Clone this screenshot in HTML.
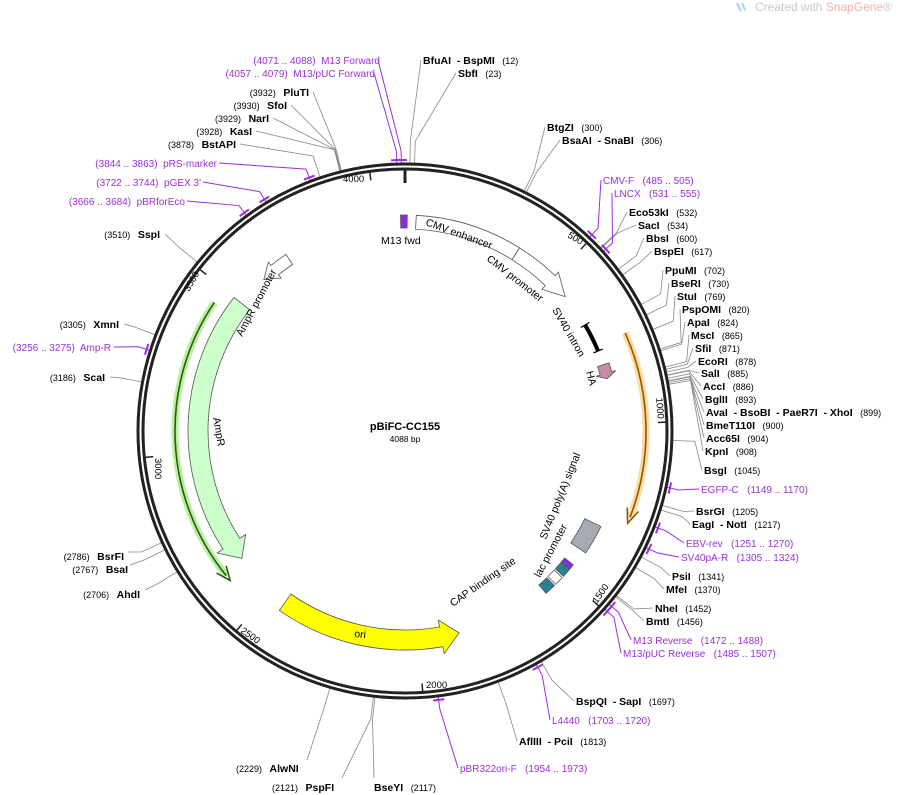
<!DOCTYPE html>
<html><head><meta charset="utf-8"><style>
body{margin:0;background:#fff}
svg{display:block;font-family:"Liberation Sans","DejaVu Sans",sans-serif}
text{white-space:pre}
.e{font-size:10.5px;font-weight:bold;fill:#000}
.n{font-size:9px;font-weight:normal;fill:#000}
.p{font-size:10px;fill:#9b30d9}
.f{font-size:10.5px;fill:#000}
.t{font-size:9.5px;fill:#000}
</style></head><body>
<svg id="s" width="906" height="795" viewBox="0 0 906 795" xmlns="http://www.w3.org/2000/svg">
<text x="755" y="11" font-size="12" fill="#c8c8c8">Created with <tspan fill="#f0b0b0">SnapGene</tspan>®</text>
<path d="M737 3 l4 8 M742 3 l3 7" stroke="#9fd6e6" stroke-width="2"/>
<g id="lines"></g>
<circle cx="405" cy="431" r="267" fill="none" stroke="#222" stroke-width="3"/>
<circle cx="405" cy="431" r="262" fill="none" stroke="#222" stroke-width="3"/>
<g id="feat"></g>
<text x="405" y="430" text-anchor="middle" font-size="11" font-weight="bold">pBiFC-CC155</text>
<text x="405" y="442" text-anchor="middle" font-size="8.5">4088 bp</text>
<text class="t" x="343" y="182">4000</text>
<text class="t" transform="translate(567,237) rotate(30)">500</text>
<text class="t" transform="translate(656,398) rotate(85)">1000</text>
<text class="t" transform="translate(597,604) rotate(-55)">1500</text>
<text class="t" x="426" y="688">2000</text>
<text class="t" transform="translate(240,632) rotate(35)">2500</text>
<text class="t" transform="translate(155,458) rotate(90)">3000</text>
<text class="t" transform="translate(189,292) rotate(-60)">3500</text>
<text class="f" transform="translate(425,225) rotate(20)">CMV enhancer</text>
<text class="f" transform="translate(486,260) rotate(38)">CMV promoter</text>
<text class="f" transform="translate(552,310) rotate(60)">SV40 intron</text>
<text class="f" transform="translate(586,372) rotate(75)">HA</text>
<text class="f" transform="translate(546,540) rotate(-68)">SV40 poly(A) signal</text>
<text class="f" transform="translate(540,578) rotate(-62)">lac promoter</text>
<text class="f" transform="translate(453,607) rotate(-35)">CAP binding site</text>
<text class="f" transform="translate(354,637) rotate(6)">ori</text>
<text class="f" transform="translate(213,418) rotate(80)">AmpR</text>
<text class="f" transform="translate(242,337) rotate(-62)">AmpR promoter</text>
<text class="f" x="381" y="244">M13 fwd</text>
<g text-anchor="end">
<text class="p" x="380" y="64">(4071 .. 4088)  M13 Forward</text>
<text class="p" x="375" y="77">(4057 .. 4079)  M13/pUC Forward</text>
<text x="309" y="96"><tspan class="n">(3932)   </tspan><tspan class="e">PluTI</tspan></text>
<text x="287" y="109"><tspan class="n">(3930)   </tspan><tspan class="e">SfoI</tspan></text>
<text x="269" y="122"><tspan class="n">(3929)   </tspan><tspan class="e">NarI</tspan></text>
<text x="252" y="135"><tspan class="n">(3928)   </tspan><tspan class="e">KasI</tspan></text>
<text x="236" y="148"><tspan class="n">(3878)   </tspan><tspan class="e">BstAPI</tspan></text>
<text class="p" x="217" y="167">(3844 .. 3863)  pRS-marker</text>
<text class="p" x="201" y="186">(3722 .. 3744)  pGEX 3'</text>
<text class="p" x="185" y="205">(3666 .. 3684)  pBRforEco</text>
<text x="160" y="238"><tspan class="n">(3510)   </tspan><tspan class="e">SspI</tspan></text>
<text x="119" y="328"><tspan class="n">(3305)   </tspan><tspan class="e">XmnI</tspan></text>
<text class="p" x="111" y="351">(3256 .. 3275)  Amp-R</text>
<text x="105" y="381"><tspan class="n">(3186)   </tspan><tspan class="e">ScaI</tspan></text>
<text x="124" y="560"><tspan class="n">(2786)   </tspan><tspan class="e">BsrFI</tspan></text>
<text x="128" y="573"><tspan class="n">(2767)   </tspan><tspan class="e">BsaI</tspan></text>
<text x="140" y="598"><tspan class="n">(2706)   </tspan><tspan class="e">AhdI</tspan></text>
</g>
<text x="236" y="772"><tspan class="n">(2229)   </tspan><tspan class="e">AlwNI</tspan></text>
<text x="272" y="791"><tspan class="n">(2121)   </tspan><tspan class="e">PspFI</tspan></text>
<text x="374" y="791"><tspan class="e">BseYI</tspan><tspan class="n">   (2117)</tspan></text>
<text class="p" x="460" y="772">pBR322ori-F   (1954 .. 1973)</text>
<text x="519" y="745"><tspan class="e">AflIII  - PciI</tspan><tspan class="n">   (1813)</tspan></text>
<text class="p" x="552" y="724">L4440   (1703 .. 1720)</text>
<text x="576" y="705"><tspan class="e">BspQI  - SapI</tspan><tspan class="n">   (1697)</tspan></text>
<text class="p" x="623" y="657">M13/pUC Reverse   (1485 .. 1507)</text>
<text class="p" x="633" y="644">M13 Reverse   (1472 .. 1488)</text>
<text x="646" y="625"><tspan class="e">BmtI</tspan><tspan class="n">   (1456)</tspan></text>
<text x="655" y="612"><tspan class="e">NheI</tspan><tspan class="n">   (1452)</tspan></text>
<text x="666" y="593"><tspan class="e">MfeI</tspan><tspan class="n">   (1370)</tspan></text>
<text x="672" y="580"><tspan class="e">PsiI</tspan><tspan class="n">   (1341)</tspan></text>
<text class="p" x="681" y="561">SV40pA-R   (1305 .. 1324)</text>
<text class="p" x="686" y="547">EBV-rev   (1251 .. 1270)</text>
<text x="692" y="528"><tspan class="e">EagI  - NotI</tspan><tspan class="n">   (1217)</tspan></text>
<text x="696" y="515"><tspan class="e">BsrGI</tspan><tspan class="n">   (1205)</tspan></text>
<text class="p" x="701" y="493">EGFP-C   (1149 .. 1170)</text>
<text x="704" y="474"><tspan class="e">BsgI</tspan><tspan class="n">   (1045)</tspan></text>
<text x="705" y="455"><tspan class="e">KpnI</tspan><tspan class="n">   (908)</tspan></text>
<text x="706" y="442"><tspan class="e">Acc65I</tspan><tspan class="n">   (904)</tspan></text>
<text x="706" y="429"><tspan class="e">BmeT110I</tspan><tspan class="n">   (900)</tspan></text>
<text x="706" y="416"><tspan class="e">AvaI  - BsoBI  - PaeR7I  - XhoI</tspan><tspan class="n">   (899)</tspan></text>
<text x="705" y="403"><tspan class="e">BglII</tspan><tspan class="n">   (893)</tspan></text>
<text x="703" y="390"><tspan class="e">AccI</tspan><tspan class="n">   (886)</tspan></text>
<text x="701" y="377"><tspan class="e">SalI</tspan><tspan class="n">   (885)</tspan></text>
<text x="698" y="365"><tspan class="e">EcoRI</tspan><tspan class="n">   (878)</tspan></text>
<text x="695" y="352"><tspan class="e">SfiI</tspan><tspan class="n">   (871)</tspan></text>
<text x="691" y="339"><tspan class="e">MscI</tspan><tspan class="n">   (865)</tspan></text>
<text x="687" y="326"><tspan class="e">ApaI</tspan><tspan class="n">   (824)</tspan></text>
<text x="682" y="313"><tspan class="e">PspOMI</tspan><tspan class="n">   (820)</tspan></text>
<text x="677" y="300"><tspan class="e">StuI</tspan><tspan class="n">   (769)</tspan></text>
<text x="671" y="287"><tspan class="e">BseRI</tspan><tspan class="n">   (730)</tspan></text>
<text x="665" y="274"><tspan class="e">PpuMI</tspan><tspan class="n">   (702)</tspan></text>
<text x="654" y="255"><tspan class="e">BspEI</tspan><tspan class="n">   (617)</tspan></text>
<text x="646" y="242"><tspan class="e">BbsI</tspan><tspan class="n">   (600)</tspan></text>
<text x="638" y="229"><tspan class="e">SacI</tspan><tspan class="n">   (534)</tspan></text>
<text x="629" y="216"><tspan class="e">Eco53kI</tspan><tspan class="n">   (532)</tspan></text>
<text class="p" x="614" y="197">LNCX   (531 .. 555)</text>
<text class="p" x="603" y="184">CMV-F   (485 .. 505)</text>
<text x="562" y="144"><tspan class="e">BsaAI  - SnaBI</tspan><tspan class="n">   (306)</tspan></text>
<text x="547" y="131"><tspan class="e">BtgZI</tspan><tspan class="n">   (300)</tspan></text>
<text x="423" y="64"><tspan class="e">BfuAI  - BspMI</tspan><tspan class="n">   (12)</tspan></text>
<text x="458" y="77"><tspan class="e">SbfI</tspan><tspan class="n">   (23)</tspan></text>
</svg>
<script>
var NS="http://www.w3.org/2000/svg",C=[405,431],L=4088;
function pt(r,a){a=a*Math.PI/180;return[C[0]+r*Math.sin(a),C[1]-r*Math.cos(a)];}
function ang(bp){return bp/L*360;}
function el(tag,at,parent){var e=document.createElementNS(NS,tag);for(var k in at)e.setAttribute(k,at[k]);document.getElementById(parent).appendChild(e);return e;}
var ln=[[12,421,60],[23,456,73],[300,545,127],[306,560,140],[532,627,212],[534,636,225],[600,644,238],[617,652,251],
[702,663,270],[730,669,283],[769,675,296],[820,680,309],[824,685,322],[865,689,335],[871,693,348],[878,696,361],[885,699,373],[886,701,386],[893,703,399],[899,704,412],[900,704,425],[904,704,438],[908,703,451],[1045,702,470],
[1205,694,511],[1217,690,524],[1341,670,576],[1370,664,589],[1452,653,608],[1456,644,621],[1697,574,701],[1813,517,741],[2117,374,778],[2121,342,778],[2229,307,760],
[2706,145,590],[2767,130,565],[2786,128,552],[3186,110,377],[3305,124,324],[3510,165,234],[3878,240,144],[3928,256,131],[3929,273,118],[3930,291,105],[3932,313,92]];
ln.forEach(function(l){var a=pt(268,ang(l[0]));var b=pt(290,ang(l[0]));
el("path",{d:"M"+a+"L"+b+"L"+l[1]+","+l[2],fill:"none",stroke:"#888","stroke-width":0.8},"lines");});
var pl=[[4079,378,60],[4068,374,73],[3853,219,163],[3733,203,182],[3675,187,201],[3265,114,347],[495,601,180],[543,612,193],[1160,699,489],[1260,684,543],[1315,679,557],[1480,631,640],[1496,621,653],[1711,550,720],[1963,458,768]];
pl.forEach(function(l){var a=pt(268,ang(l[0]));var b=pt(280,ang(l[0]));
el("path",{d:"M"+a+"L"+b+"L"+l[1]+","+l[2],fill:"none",stroke:"#9b30d9","stroke-width":1},"lines");
var a1=pt(271,ang(l[0])-1.2),a2=pt(271,ang(l[0])+1.2);el("path",{d:"M"+a1+"A271,271 0 0 1 "+a2,fill:"none",stroke:"#9b30d9","stroke-width":2},"lines");});
for(var i=0;i<L;i+=500){var a=pt(261,ang(i)),b=pt(253,ang(i));el("line",{x1:a[0],y1:a[1],x2:b[0],y2:b[1],stroke:"#222","stroke-width":1.5},"feat");}
var a=pt(262,0),b=pt(248,0);el("line",{x1:a[0],y1:a[1],x2:b[0],y2:b[1],stroke:"#222","stroke-width":3},"feat");
function arc(r,a1,a2){var p=pt(r,a1),q=pt(r,a2);return "M"+p+"A"+r+","+r+" 0 "+(Math.abs(a2-a1)>180?1:0)+" "+(a2>a1?1:0)+" "+q;}
function band(r1,r2,a1,a2,head,fill,stroke){
 var dir=a2>a1?1:-1,ah=a2-dir*head,rm=(r1+r2)/2,w=(r2-r1);
 var p1=pt(r2,a1),p2=pt(r2,ah),p3=pt(r2+w*0.35,ah),tip=pt(rm,a2),p4=pt(r1-w*0.35,ah),p5=pt(r1,ah),p6=pt(r1,a1);
 var sw=dir>0?1:0,lg=Math.abs(ah-a1)>180?1:0;
 var d="M"+p1+"A"+r2+","+r2+" 0 "+lg+" "+sw+" "+p2+(head?"L"+p3+"L"+tip+"L"+p4+"L"+p5:"L"+p5)+"A"+r1+","+r1+" 0 "+lg+" "+(1-sw)+" "+p6+"Z";
 el("path",{d:d,fill:fill,stroke:stroke||"#555","stroke-width":0.8},"feat");}
band(202,216,3,32,0,"#fff");
band(202,216,32,50,6,"#fff");
band(200,218,116,124,0,"#a6abb3");
band(199,219,215,165,5,"#ffff00");
band(197,217,308,232,5,"#ccffcc");
band(201,213,326,317,4,"#fff");
band(203,216,-1.2,0.6,0,"#8a2be2");
el("path",{d:arc(209,59.5,67.5),fill:"none",stroke:"#000","stroke-width":4},"feat");
[59.5,67.5].forEach(function(g){var p=pt(204,g),q=pt(214,g);el("line",{x1:p[0],y1:p[1],x2:q[0],y2:q[1],stroke:"#000","stroke-width":1.2},"feat");});
band(203,215,71.5,75.5,1.5,"#c88ca8");
band(204,215,136,139,0,"#2a8090");band(204,215,133,135.5,0,"#fff");band(204,215,130,132.5,0,"#2a8090");band(204,215,128.5,130,0,"#8a2be2");
el("path",{d:arc(241,66,111),fill:"none",stroke:"#ffd9a0","stroke-width":7},"feat");
el("path",{d:arc(241,66,111),fill:"none",stroke:"#8a5a00","stroke-width":1.6},"feat");
var t=pt(241,112.5),u=pt(235,109),v=pt(247,109);el("path",{d:"M"+u+"L"+t+"L"+v,fill:"none",stroke:"#8a5a00","stroke-width":1.6},"feat");
el("path",{d:arc(230,304,231),fill:"none",stroke:"#b8f0a0","stroke-width":7},"feat");
el("path",{d:arc(230,304,231),fill:"none",stroke:"#2a5a10","stroke-width":1.6},"feat");
t=pt(230,229.5);u=pt(224,233);v=pt(236,233);el("path",{d:"M"+u+"L"+t+"L"+v,fill:"none",stroke:"#2a5a10","stroke-width":1.6},"feat");
</script>
</body></html>
